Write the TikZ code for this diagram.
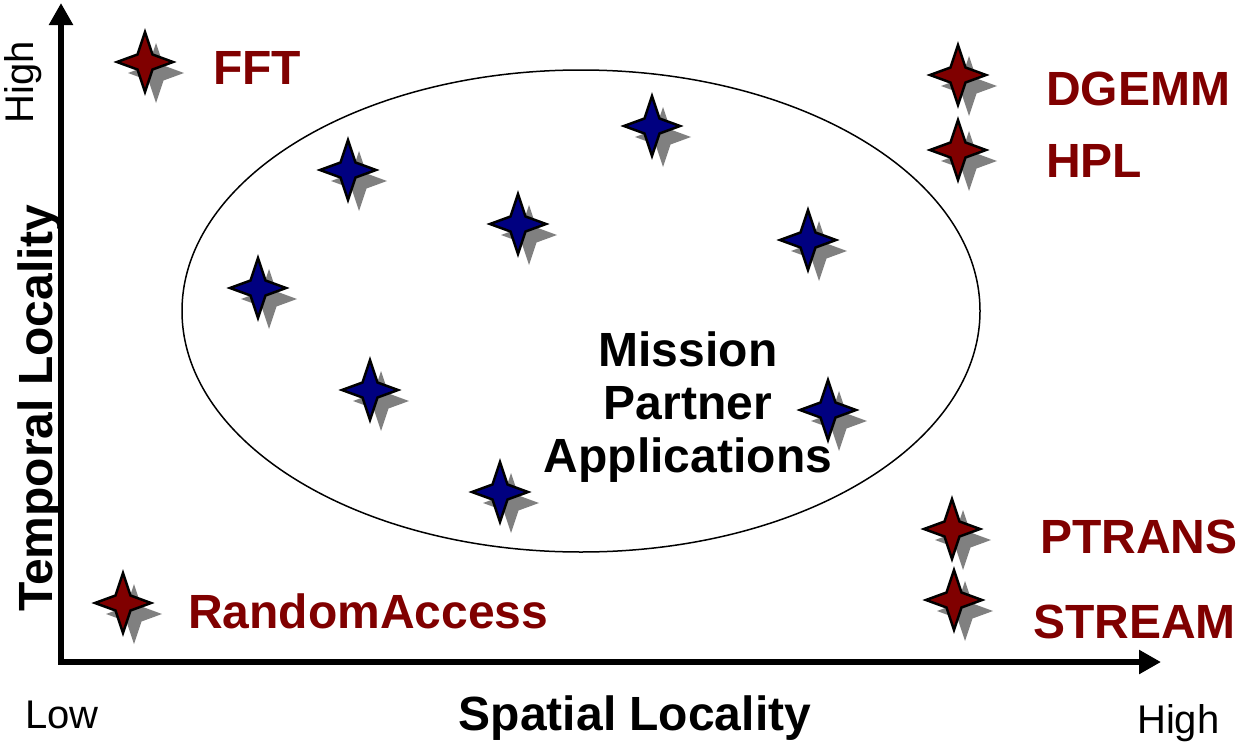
\documentclass[tikz,border=0pt]{standalone}
\usepackage{fontspec}
\setmainfont{Liberation Sans}
\usetikzlibrary{arrows.meta,shapes.geometric}
\definecolor{appred}{HTML}{800000}
\definecolor{appblue}{HTML}{000080}
\definecolor{shadowgray}{HTML}{808080}
\tikzset{
  fourstar/.pic={
    \fill[shadowgray, shift={(11,11)}] (28,0) -- (7.5,7.5) -- (0,30) -- (-7.5,7.5) -- (-28,0) -- (-7.5,-7.5) -- (0,-30) -- (7.5,-7.5) -- cycle;
    \filldraw[fill=#1, draw=black, line width=2.5pt, line join=miter] (28,0) -- (7.5,7.5) -- (0,30) -- (-7.5,7.5) -- (-28,0) -- (-7.5,-7.5) -- (0,-30) -- (7.5,-7.5) -- cycle;
  },
  biglabel/.style={inner sep=0pt, font=\fontsize{48}{53}\selectfont\bfseries},
  redlabel/.style={biglabel, text=appred, anchor=base west},
  smalllabel/.style={inner sep=0pt, font=\fontsize{40}{46}\selectfont},
  axis/.style={line width=6pt, line join=miter, {Triangle[length=22pt,width=23pt]}-{Triangle[length=22pt,width=23pt]}},
}
\begin{document}
\begin{tikzpicture}[x=1pt,y=-1pt]
\useasboundingbox (0,0) rectangle (1237,747);
% axes
\coordinate (ytip) at (61,3);
\coordinate (origin) at (61,662);
\coordinate (xtip) at (1161,662);
\draw[axis] (ytip) -- (origin) -- (xtip);
% ellipse
\node (region) [draw, ellipse, line width=1.5pt, minimum width=798pt, minimum height=482pt, inner sep=0pt] at (581,311) {};
% axis labels
\node (hiy) [smalllabel, rotate=90, anchor=base] at (34,82) {High};
\node (templ) [biglabel, rotate=90, anchor=base] at (52,408) {Temporal Locality};
\node (low) [smalllabel, anchor=base west] at (25,728) {Low};
\node (spatl) [biglabel, anchor=base] at (635,730) {Spatial Locality};
\node (hix) [smalllabel, anchor=base west] at (1137,733) {High};
% mission text
\node (mission) [biglabel, align=center, anchor=base] at (688,472) {Mission\\Partner\\Applications};
% blue stars
\pic at (348,170) {fourstar=appblue};
\pic at (652,126) {fourstar=appblue};
\pic at (518,224) {fourstar=appblue};
\pic at (808,240) {fourstar=appblue};
\pic at (258,288) {fourstar=appblue};
\pic at (370,390) {fourstar=appblue};
\pic at (828,410) {fourstar=appblue};
\pic at (500,492) {fourstar=appblue};
% red stars
\pic at (145,62) {fourstar=appred};
\pic at (958,75) {fourstar=appred};
\pic at (958,150) {fourstar=appred};
\pic at (952,529) {fourstar=appred};
\pic at (954,600) {fourstar=appred};
\pic at (123,603) {fourstar=appred};
% red labels
\node (fft) [redlabel] at (213,84) {FFT};
\node (dgemm) [redlabel] at (1046,105) {DGEMM};
\node (hpl) [redlabel] at (1046,177) {HPL};
\node (ptrans) [redlabel] at (1040,553) {PTRANS};
\node (stream) [redlabel] at (1033,638) {STREAM};
\node (ra) [redlabel] at (188,628) {RandomAccess};
\end{tikzpicture}
\end{document}
